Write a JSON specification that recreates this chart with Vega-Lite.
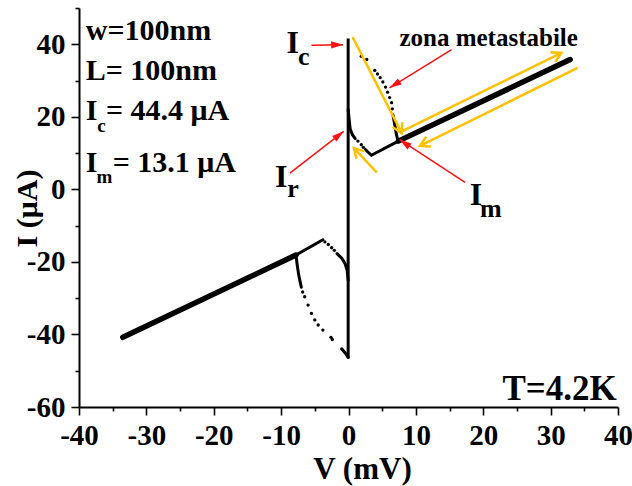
{
  "$schema": "https://vega.github.io/schema/vega-lite/v6.json",
  "width": 539,
  "height": 399,
  "autosize": {"type": "none"},
  "padding": {"left": 79, "top": 8, "right": 14, "bottom": 79},
  "background": "white",
  "config": {"view": {"stroke": null}, "font": "Liberation Serif"},
  "datasets": {
    "curve": [
      {"seg": "vert", "kind": "vert", "k": 0, "V": -0.05, "I": -46.6},
      {"seg": "vert", "kind": "vert", "k": 1, "V": -0.05, "I": -25},
      {"seg": "vert", "kind": "vert", "k": 2, "V": -0.05, "I": 0},
      {"seg": "vert", "kind": "vert", "k": 3, "V": -0.05, "I": 20},
      {"seg": "vert", "kind": "vert", "k": 4, "V": -0.05, "I": 41.6},
      {"seg": "pthick", "kind": "thick", "k": 0, "V": 7.4, "I": 13.3},
      {"seg": "pthick", "kind": "thick", "k": 1, "V": 32.9, "I": 35.8},
      {"seg": "nthick", "kind": "thick", "k": 0, "V": -33.5, "I": -40.8},
      {"seg": "nthick", "kind": "thick", "k": 1, "V": -7.8, "I": -18.1},
      {"seg": "nthin", "kind": "thin", "k": 0, "V": -7.8, "I": -18.1},
      {"seg": "nthin", "kind": "thin", "k": 1, "V": -3.8, "I": -13.9},
      {"seg": "pthin", "kind": "thin", "k": 0, "V": 2.5, "I": 11.0},
      {"seg": "pthin", "kind": "thin", "k": 1, "V": 3.0, "I": 10.1},
      {"seg": "pthin", "kind": "thin", "k": 2, "V": 3.4, "I": 9.4},
      {"seg": "pthin", "kind": "thin", "k": 3, "V": 7.4, "I": 13.3},
      {"seg": "ircurve", "kind": "thin", "k": 0, "V": -0.05, "I": 22},
      {"seg": "ircurve", "kind": "thin", "k": 1, "V": 0.1, "I": 19.2},
      {"seg": "ircurve", "kind": "thin", "k": 2, "V": 0.25, "I": 16.6},
      {"seg": "ircurve", "kind": "thin", "k": 3, "V": 0.6, "I": 15.0},
      {"seg": "ircurve", "kind": "thin", "k": 4, "V": 1.0, "I": 14.0},
      {"seg": "metabot", "kind": "thin", "k": 0, "V": 6.6, "I": 20.5},
      {"seg": "metabot", "kind": "thin", "k": 1, "V": 6.9, "I": 17.5},
      {"seg": "metabot", "kind": "thin", "k": 2, "V": 7.1, "I": 15.2},
      {"seg": "metabot", "kind": "thin", "k": 3, "V": 7.35, "I": 13.4},
      {"seg": "negtop", "kind": "thin", "k": 0, "V": -1.7, "I": -17.7},
      {"seg": "negtop", "kind": "thin", "k": 1, "V": -1.0, "I": -19.0},
      {"seg": "negtop", "kind": "thin", "k": 2, "V": -0.5, "I": -20.5},
      {"seg": "negtop", "kind": "thin", "k": 3, "V": -0.2, "I": -22.3},
      {"seg": "negtop", "kind": "thin", "k": 4, "V": -0.05, "I": -25},
      {"seg": "negdrop", "kind": "thin", "k": 0, "V": -7.8, "I": -18.1},
      {"seg": "negdrop", "kind": "thin", "k": 1, "V": -7.6, "I": -21},
      {"seg": "negdrop", "kind": "thin", "k": 2, "V": -7.4, "I": -23.5},
      {"seg": "negdrop", "kind": "thin", "k": 3, "V": -7.2, "I": -25.3},
      {"seg": "negdrop", "kind": "thin", "k": 4, "V": -7.0, "I": -27.0},
      {"seg": "negbot", "kind": "thin", "k": 0, "V": -0.9, "I": -44.2},
      {"seg": "negbot", "kind": "thin", "k": 1, "V": -0.4, "I": -45.3},
      {"seg": "negbot", "kind": "thin", "k": 2, "V": -0.05, "I": -46.3}
    ],
    "dots": [
      {"V": 1.9, "I": 36.7}, {"V": 2.7, "I": 35.8}, {"V": 3.9, "I": 32.8}, {"V": 4.3, "I": 31.8},
      {"V": 4.7, "I": 30.8}, {"V": 5.1, "I": 29.6}, {"V": 5.5, "I": 28.2}, {"V": 5.8, "I": 26.8},
      {"V": 6.1, "I": 25.3}, {"V": 6.4, "I": 23.9}, {"V": 6.5, "I": 22.2},
      {"V": 1.4, "I": 13.3}, {"V": 1.9, "I": 12.3}, {"V": 2.2, "I": 11.6},
      {"V": -3.5, "I": -14.5}, {"V": -3.0, "I": -15.2}, {"V": -2.5, "I": -16.1}, {"V": -2.1, "I": -16.8},
      {"V": -6.8, "I": -28.3}, {"V": -6.5, "I": -29.6}, {"V": -6.0, "I": -31.9}, {"V": -5.5, "I": -34.2},
      {"V": -5.0, "I": -36.0}, {"V": -4.5, "I": -37.4}, {"V": -3.8, "I": -38.8}, {"V": -2.6, "I": -40.8},
      {"V": -2.4, "I": -41.4}, {"V": -1.0, "I": -44.0}
    ],
    "orange": [
      {"V": 0.6, "I": 42.0, "V2": 7.9, "I2": 15.5, "ang": 153},
      {"V": 7.9, "I": 16.0, "V2": 31.6, "I2": 37.6, "ang": 64},
      {"V": 34.0, "I": 33.5, "V2": 10.6, "I2": 12.0, "ang": 243.6},
      {"V": 4.2, "I": 4.6, "V2": 0.8, "I2": 11.4, "ang": 317}
    ],
    "red": [
      {"V": -5.5, "I": 39.7, "V2": -0.8, "I2": 39.9, "ang": 89},
      {"V": 15.3, "I": 38.5, "V2": 6.1, "I2": 28.0, "ang": 238},
      {"V": -8.7, "I": 4.5, "V2": -0.7, "I2": 16.0, "ang": 52},
      {"V": 17.3, "I": 1.9, "V2": 7.6, "I2": 13.7, "ang": 305}
    ],
    "labels": [
      {"t": "w=100nm", "V": -39.0, "I": 41.3, "g": "info"},
      {"t": "L= 100nm", "V": -39.0, "I": 30.25, "g": "info"},
      {"t": "I", "V": -39.0, "I": 19.2, "g": "info"},
      {"t": "= 44.4 μA", "V": -36.0, "I": 19.2, "g": "info"},
      {"t": "I", "V": -39.0, "I": 4.8, "g": "info"},
      {"t": "= 13.1 μA", "V": -35.0, "I": 4.8, "g": "info"},
      {"t": "c", "V": -37.3, "I": 15.9, "g": "infosub"},
      {"t": "m", "V": -37.4, "I": 1.8, "g": "infosub"},
      {"t": "I", "V": -9.2, "I": 37.7, "g": "big"},
      {"t": "I", "V": -10.9, "I": 0.7, "g": "big"},
      {"t": "I", "V": 18.0, "I": -4.3, "g": "big"},
      {"t": "c", "V": -7.5, "I": 34.4, "g": "bigsub"},
      {"t": "r", "V": -9.1, "I": -2.1, "g": "bigsub"},
      {"t": "m", "V": 19.5, "I": -7.6, "g": "bigsub"},
      {"t": "zona metastabile", "V": 20.8, "I": 39.4, "g": "zona"},
      {"t": "T=4.2K", "V": 39.8, "I": -58.1, "g": "temp"}
    ]
  },
  "encoding": {
    "x": {
      "field": "V", "type": "quantitative",
      "scale": {"domain": [-40, 40], "nice": false, "zero": false},
      "axis": {
        "title": "V (mV)",
        "values": [-40, -35, -30, -25, -20, -15, -10, -5, 0, 5, 10, 15, 20, 25, 30, 35, 40],
        "labelExpr": "datum.value % 10 === 0 ? '' + datum.value : ''",
        "tickSize": {"condition": {"test": "datum.value % 10 !== 0", "value": 4}, "value": 8},
        "labelFlush": false, "labelOverlap": false, "grid": false,
        "domainColor": "black", "domainWidth": 2, "tickColor": "black", "tickWidth": 1.6,
        "labelFont": "Liberation Serif", "labelFontWeight": "bold", "labelFontSize": 29, "labelColor": "black", "labelPadding": 6,
        "titleFont": "Liberation Serif", "titleFontSize": 31, "titleFontWeight": "bold", "titleColor": "black",
        "titleBaseline": "alphabetic", "titleX": 283, "titleY": 71
      }
    },
    "y": {
      "field": "I", "type": "quantitative",
      "scale": {"domain": [-60, 50], "nice": false, "zero": false},
      "axis": {
        "title": "I (μA)",
        "values": [-60, -50, -40, -30, -20, -10, 0, 10, 20, 30, 40, 50],
        "labelExpr": "datum.value % 20 === 0 ? '' + datum.value : ''",
        "tickSize": {"condition": {"test": "datum.value % 20 !== 0", "value": 4}, "value": 8},
        "labelOverlap": false, "grid": false,
        "domainColor": "black", "domainWidth": 2, "tickColor": "black", "tickWidth": 1.6,
        "labelFont": "Liberation Serif", "labelFontWeight": "bold", "labelFontSize": 29, "labelColor": "black", "labelPadding": 6,
        "titleFont": "Liberation Serif", "titleFontSize": 30, "titleFontWeight": "bold", "titleColor": "black",
        "titleBaseline": "alphabetic", "titleX": -43, "titleY": 200
      }
    }
  },
  "layer": [
    {
      "data": {"name": "curve"},
      "transform": [{"filter": "datum.kind === 'vert'"}],
      "mark": {"type": "line", "color": "black", "strokeWidth": 3},
      "encoding": {"detail": {"field": "seg"}, "order": {"field": "k", "type": "quantitative"}}
    },
    {
      "data": {"name": "curve"},
      "transform": [{"filter": "datum.kind === 'thick'"}],
      "mark": {"type": "line", "color": "black", "strokeWidth": 5.5, "strokeCap": "round"},
      "encoding": {"detail": {"field": "seg"}, "order": {"field": "k", "type": "quantitative"}}
    },
    {
      "data": {"name": "curve"},
      "transform": [{"filter": "datum.kind === 'thin'"}],
      "mark": {"type": "line", "color": "black", "strokeWidth": 3, "strokeCap": "round"},
      "encoding": {"detail": {"field": "seg"}, "order": {"field": "k", "type": "quantitative"}}
    },
    {
      "data": {"name": "dots"},
      "mark": {"type": "point", "filled": true, "color": "black", "size": 11, "opacity": 1}
    },
    {
      "data": {"name": "orange"},
      "mark": {"type": "rule", "color": "#FFC000", "strokeWidth": 2.5},
      "encoding": {"x2": {"field": "V2"}, "y2": {"field": "I2"}}
    },
    {
      "data": {"name": "orange"},
      "mark": {"type": "point", "shape": "M-0.9,1.6L0,0L0.9,1.6", "size": 144, "filled": false, "stroke": "#FFC000", "strokeWidth": 2.5, "opacity": 1},
      "encoding": {
        "x": {"field": "V2", "type": "quantitative"},
        "y": {"field": "I2", "type": "quantitative"},
        "angle": {"field": "ang", "type": "quantitative", "scale": null}
      }
    },
    {
      "data": {"name": "red"},
      "mark": {"type": "rule", "color": "#FF1010", "strokeWidth": 1.5},
      "encoding": {"x2": {"field": "V2"}, "y2": {"field": "I2"}}
    },
    {
      "data": {"name": "red"},
      "mark": {"type": "point", "shape": "M0,0L0.6,2L-0.6,2Z", "size": 144, "filled": true, "color": "#FF1010", "opacity": 1},
      "encoding": {
        "x": {"field": "V2", "type": "quantitative"},
        "y": {"field": "I2", "type": "quantitative"},
        "angle": {"field": "ang", "type": "quantitative", "scale": null}
      }
    },
    {
      "data": {"name": "labels"},
      "transform": [{"filter": "datum.g === 'info'"}],
      "mark": {"type": "text", "align": "left", "baseline": "alphabetic", "font": "Liberation Serif", "fontWeight": "bold", "fontSize": 30, "color": "black"},
      "encoding": {"text": {"field": "t"}}
    },
    {
      "data": {"name": "labels"},
      "transform": [{"filter": "datum.g === 'infosub'"}],
      "mark": {"type": "text", "align": "left", "baseline": "alphabetic", "font": "Liberation Serif", "fontWeight": "bold", "fontSize": 19, "color": "black"},
      "encoding": {"text": {"field": "t"}}
    },
    {
      "data": {"name": "labels"},
      "transform": [{"filter": "datum.g === 'big'"}],
      "mark": {"type": "text", "align": "left", "baseline": "alphabetic", "font": "Liberation Serif", "fontWeight": "bold", "fontSize": 32, "color": "black"},
      "encoding": {"text": {"field": "t"}}
    },
    {
      "data": {"name": "labels"},
      "transform": [{"filter": "datum.g === 'bigsub'"}],
      "mark": {"type": "text", "align": "left", "baseline": "alphabetic", "font": "Liberation Serif", "fontWeight": "bold", "fontSize": 26, "color": "black"},
      "encoding": {"text": {"field": "t"}}
    },
    {
      "data": {"name": "labels"},
      "transform": [{"filter": "datum.g === 'zona'"}],
      "mark": {"type": "text", "align": "center", "baseline": "alphabetic", "font": "Liberation Serif", "fontWeight": "bold", "fontSize": 25, "color": "black"},
      "encoding": {"text": {"field": "t"}}
    },
    {
      "data": {"name": "labels"},
      "transform": [{"filter": "datum.g === 'temp'"}],
      "mark": {"type": "text", "align": "right", "baseline": "alphabetic", "font": "Liberation Serif", "fontWeight": "bold", "fontSize": 35, "color": "black"},
      "encoding": {"text": {"field": "t"}}
    }
  ]
}
